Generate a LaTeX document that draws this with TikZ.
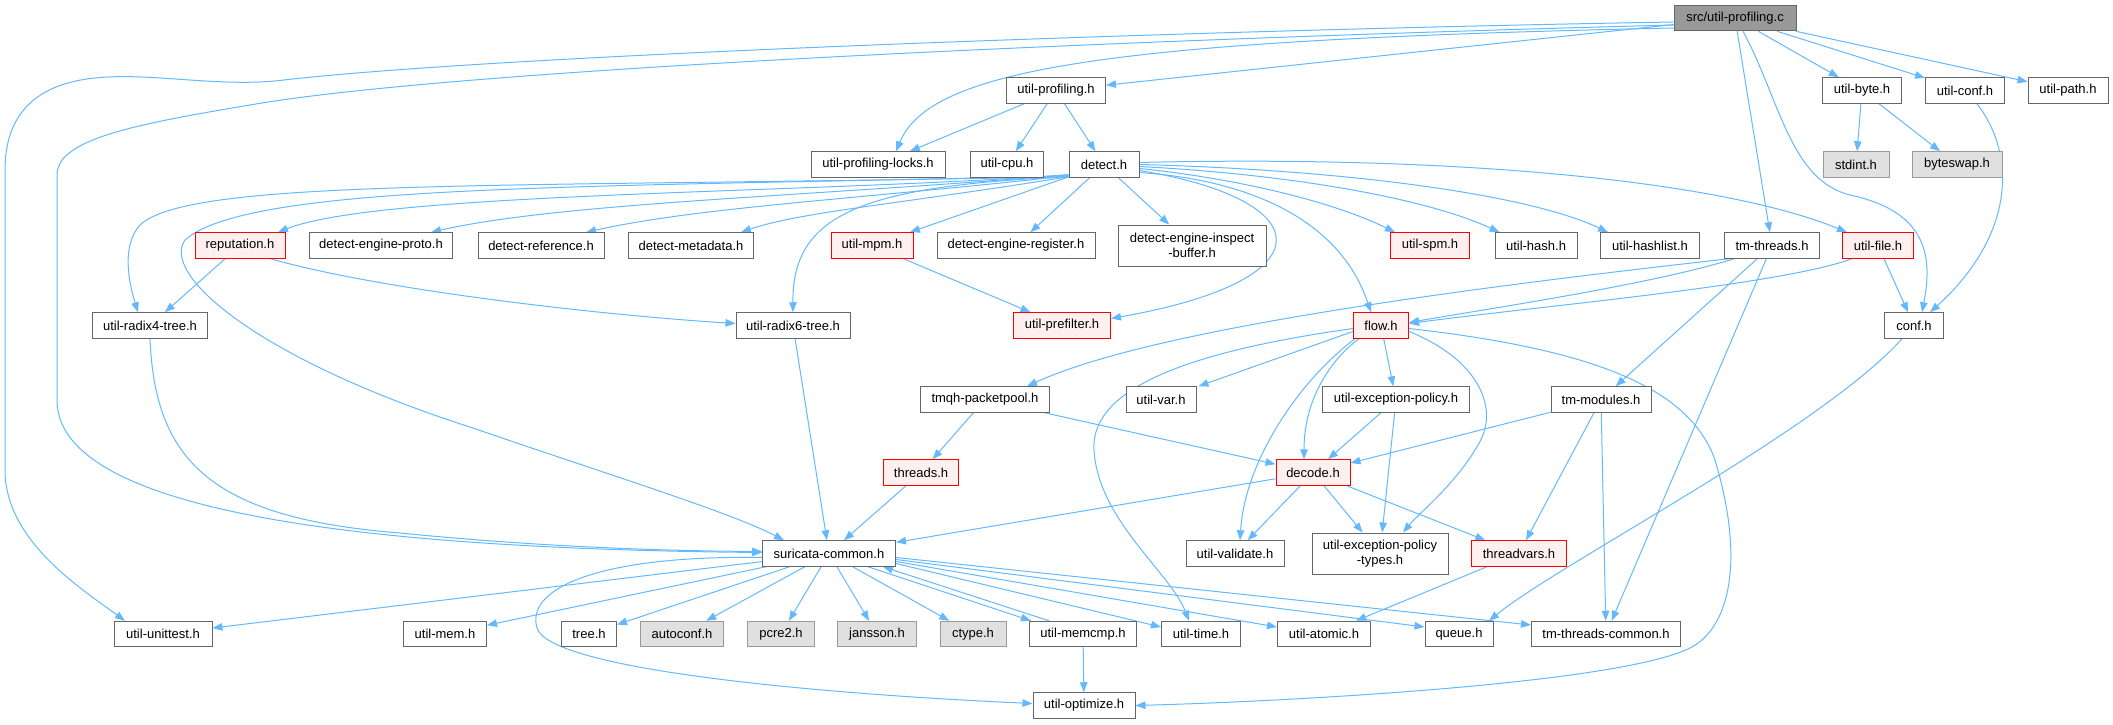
\documentclass[tikz,border=0pt]{standalone}
\usepackage{fontspec}
\setmainfont{Liberation Sans}
\usetikzlibrary{arrows.meta,calc}
\definecolor{eblue}{HTML}{63B8FF}
\definecolor{bgray}{HTML}{666666}
\definecolor{lgray}{HTML}{999999}
\definecolor{ffill}{HTML}{E0E0E0}
\definecolor{rfill}{HTML}{FFF0F0}
\pgfdeclarelayer{bg}
\pgfsetlayers{bg,main}
\tikzset{
  nb/.style={draw=bgray, fill=white, line width=1pt, minimum height=25.5pt, inner sep=0pt,
    font=\fontsize{13}{15.5}\selectfont, align=center},
  rb/.style={nb, draw=red, fill=rfill},
  gb/.style={nb, draw=lgray, fill=ffill},
  sb/.style={nb, fill=lgray},
  tall/.style={minimum height=41pt},
  e/.style={draw=eblue, line width=1pt, -{Triangle[length=10pt,width=7.5pt]}},
}
\begin{document}
\begin{tikzpicture}[x=1pt,y=-1pt]
\useasboundingbox (0,0) rectangle (2113,725);
% row 0
\node[sb, minimum width=122] (src) at (1735,18) {src/util-profiling.c};
% row 1
\node[nb, minimum width=99] (uprof) at (1056,90.5) {util-profiling.h};
\node[nb, minimum width=79] (ubyte) at (1862,90.5) {util-byte.h};
\node[nb, minimum width=79] (uconf) at (1965,90.5) {util-conf.h};
\node[nb, minimum width=80] (upath) at (2068,90.5) {util-path.h};
% row 2
\node[nb, minimum width=134] (locks) at (878,164.5) {util-profiling-locks.h};
\node[nb, minimum width=73] (ucpu) at (1007,164.5) {util-cpu.h};
\node[nb, minimum width=70] (detect) at (1104,164.5) {detect.h};
\node[gb, minimum width=66] (stdint) at (1856,164.5) {stdint.h};
\node[gb, minimum width=90] (byteswap) at (1957,164.5) {byteswap.h};
% row 3
\node[rb, minimum width=90] (reputation) at (240,245.5) {reputation.h};
\node[nb, minimum width=143] (dep) at (381,245.5) {detect-engine-proto.h};
\node[nb, minimum width=126] (dref) at (541,245.5) {detect-reference.h};
\node[nb, minimum width=125] (dmeta) at (691,245.5) {detect-metadata.h};
\node[rb, minimum width=82] (umpm) at (872,245.5) {util-mpm.h};
\node[nb, minimum width=158] (dereg) at (1016,245.5) {detect-engine-register.h};
\node[nb, tall, minimum width=148] (deib) at (1192,245.5) {detect-engine-inspect\\-buffer.h};
\node[rb, minimum width=79] (uspm) at (1430,245.5) {util-spm.h};
\node[nb, minimum width=82] (uhash) at (1536,245.5) {util-hash.h};
\node[nb, minimum width=99] (uhashlist) at (1650,245.5) {util-hashlist.h};
\node[nb, minimum width=95] (tmthreads) at (1772,245.5) {tm-threads.h};
\node[rb, minimum width=71] (ufile) at (1878,245.5) {util-file.h};
% row 4
\node[nb, minimum width=115] (radix4) at (150,325.5) {util-radix4-tree.h};
\node[nb, minimum width=114] (radix6) at (793,325.5) {util-radix6-tree.h};
\node[rb, minimum width=97] (prefilter) at (1062,325.5) {util-prefilter.h};
\node[rb, minimum width=55] (flow) at (1381,325.5) {flow.h};
\node[nb, minimum width=59] (conf) at (1914,325.5) {conf.h};
% row 5
\node[nb, minimum width=129] (tmqh) at (985,399.5) {tmqh-packetpool.h};
\node[nb, minimum width=70] (uvar) at (1161,399.5) {util-var.h};
\node[nb, minimum width=147] (uexc) at (1396,399.5) {util-exception-policy.h};
\node[nb, minimum width=100] (tmmod) at (1601,399.5) {tm-modules.h};
% row 6
\node[rb, minimum width=75] (threads) at (921,472.5) {threads.h};
\node[rb, minimum width=74] (decode) at (1313,472.5) {decode.h};
% row 7
\node[nb, minimum width=133] (suricata) at (829,553.5) {suricata-common.h};
\node[nb, minimum width=98] (uvalid) at (1235,553.5) {util-validate.h};
\node[nb, tall, minimum width=136] (uexct) at (1380,553.5) {util-exception-policy\\-types.h};
\node[rb, minimum width=95] (threadvars) at (1519,553.5) {threadvars.h};
% row 8
\node[nb, minimum width=98] (unittest) at (163,634) {util-unittest.h};
\node[nb, minimum width=83] (umem) at (445,634) {util-mem.h};
\node[nb, minimum width=55] (tree) at (589,634) {tree.h};
\node[gb, minimum width=83] (autoconf) at (682,634) {autoconf.h};
\node[gb, minimum width=67] (pcre2) at (781,634) {pcre2.h};
\node[gb, minimum width=79] (jansson) at (877,634) {jansson.h};
\node[gb, minimum width=66] (ctype) at (973,634) {ctype.h};
\node[nb, minimum width=107] (memcmp) at (1083,634) {util-memcmp.h};
\node[nb, minimum width=79] (utime) at (1201,634) {util-time.h};
\node[nb, minimum width=93] (uatomic) at (1324,634) {util-atomic.h};
\node[nb, minimum width=68] (queue) at (1459,634) {queue.h};
\node[nb, minimum width=149] (tmtc) at (1606,634) {tm-threads-common.h};
% row 9
\node[nb, minimum width=102] (uopt) at (1084,705.5) {util-optimize.h};

\begin{pgfonlayer}{bg}
% from src
\draw[e] ($(src.west)+(0,4)$) .. controls (1200,30) and (500,55) .. (284,80) .. controls (220,88) and (150,72) .. (95,78) .. controls (35,84) and (5,115) .. (5,170) -- (5,470) .. controls (5,540) and (80,588) .. ($(unittest.north)+(-38,0)$);
\draw[e] ($(src.west)+(0,7)$) .. controls (1100,40) and (450,70) .. (250,105) .. controls (130,125) and (57,140) .. (57,175) -- (57,400) .. controls (57,500) and (300,548) .. ($(suricata.west)+(0,-1)$);
\draw[e] ($(src.west)+(0,10)$) .. controls (1100,40) and (930,70) .. ($(locks.north)+(18,0)$);
\draw[e] (src) -- (uprof);
\draw[e] (src) -- (tmthreads);
\draw[e] ($(src.south)+(8,0)$) .. controls (1780,100) and (1790,180) .. (1850,195) .. controls (1930,212) and (1932,260) .. ($(conf.north)+(8,0)$);
\draw[e] (src) -- (ubyte);
\draw[e] (src) -- (uconf);
\draw[e] (src) -- (upath);
% util-profiling.h
\draw[e] (uprof) -- (locks);
\draw[e] (uprof) -- (ucpu);
\draw[e] (uprof) -- (detect);
% util-byte / util-conf
\draw[e] (ubyte) -- (stdint);
\draw[e] (ubyte) -- (byteswap);
\draw[e] ($(uconf.south)+(12,0)$) .. controls (2020,160) and (2010,240) .. ($(conf.north)+(16,0)$);
% detect.h, leftwards
\draw[e] ($(detect.south west)+(0,-1)$) .. controls (500,188) and (190,178) .. (140,225) .. controls (122,245) and (128,280) .. ($(radix4.north)+(-12,0)$);
\draw[e] ($(detect.south west)+(0,-2)$) .. controls (600,188) and (250,182) .. (185,240) .. controls (160,275) and (260,360) .. (473,428) .. controls (600,472) and (730,512) .. ($(suricata.north)+(-45,0)$);
\draw[e] ($(detect.south west)+(0,-3)$) .. controls (800,194) and (380,192) .. ($(reputation.north)+(38,0)$);
\draw[e] ($(detect.south west)+(0,-3)$) .. controls (800,197) and (560,203) .. ($(dep.north)+(50,0)$);
\draw[e] ($(detect.south west)+(0,-2)$) .. controls (850,200) and (700,207) .. ($(dref.north)+(45,0)$);
\draw[e] ($(detect.south west)+(0,-1)$) .. controls (900,204) and (800,212) .. ($(dmeta.north)+(50,0)$);
\draw[e] ($(detect.south west)+(0,-1)$) .. controls (860,186) and (792,215) .. (radix6.north);
\draw[e] (detect) -- (umpm);
\draw[e] (detect) -- (dereg);
\draw[e] (detect) -- (deib);
% detect.h, rightwards
\draw[e] ($(detect.east)+(0,6)$) .. controls (1320,200) and (1330,280) .. ($(prefilter.east)+(0,-7)$);
\draw[e] ($(detect.east)+(0,8)$) .. controls (1250,180) and (1340,220) .. ($(flow.north)+(-10,0)$);
\draw[e] ($(detect.east)+(0,4)$) .. controls (1250,180) and (1340,205) .. ($(uspm.north west)+(5,0)$);
\draw[e] ($(detect.east)+(0,2)$) .. controls (1300,175) and (1430,200) .. ($(uhash.north west)+(5,0)$);
\draw[e] (detect.east) .. controls (1350,170) and (1530,195) .. ($(uhashlist.north west)+(8,0)$);
\draw[e] ($(detect.east)+(0,-2)$) .. controls (1450,155) and (1720,180) .. ($(ufile.north west)+(5,0)$);
% reputation, mpm, radix
\draw[e] (reputation) -- (radix4);
\draw[e] ($(reputation.south east)+(-15,0)$) .. controls (380,290) and (600,315) .. ($(radix6.west)+(0,-2)$);
\draw[e] (umpm) -- (prefilter);
\draw[e] (radix4.south) .. controls (155,460) and (210,518) .. (400,533) .. controls (550,548) and (680,551) .. ($(suricata.west)+(0,-2)$);
\draw[e] (radix6) -- (suricata);
\draw[e] (threads) -- (suricata);
\draw[e] (tmqh) -- (threads);
\draw[e] (tmqh) -- (decode);
% tm-threads, util-file
\draw[e] ($(tmthreads.south west)+(5,0)$) .. controls (1450,290) and (1150,330) .. ($(tmqh.north)+(42,0)$);
\draw[e] ($(tmthreads.south west)+(10,0)$) .. controls (1650,285) and (1480,310) .. ($(flow.east)+(0,-3)$);
\draw[e] ($(ufile.south west)+(10,0)$) .. controls (1780,285) and (1550,305) .. ($(flow.east)+(0,-2)$);
\draw[e] (ufile) -- (conf);
\draw[e] (tmthreads) -- (tmmod);
\draw[e] (tmthreads) -- (tmtc);
% flow.h
\draw[e] ($(flow.west)+(0,6)$) -- ($(uvar.north east)+(2,0)$);
\draw[e] ($(flow.west)+(0,3)$) .. controls (1200,350) and (1090,385) .. (1094,450) .. controls (1098,520) and (1170,572) .. ($(utime.north)+(-12,0)$);
\draw[e] ($(flow.south west)+(6,0)$) .. controls (1330,360) and (1304,400) .. ($(decode.north)+(-9,0)$);
\draw[e] ($(flow.south west)+(2,0)$) .. controls (1300,380) and (1245,460) .. ($(uvalid.north)+(5,0)$);
\draw[e] (flow) -- (uexc);
\draw[e] ($(flow.east)+(0,6)$) .. controls (1480,360) and (1500,410) .. (1478,445) .. controls (1455,485) and (1420,512) .. ($(uexct.north)+(23,0)$);
\draw[e] ($(flow.east)+(0,3)$) .. controls (1600,350) and (1690,390) .. (1715,460) .. controls (1745,560) and (1730,628) .. (1690,648) .. controls (1620,683) and (1300,701) .. (uopt.east);
% decode etc
\draw[e] (decode) -- (suricata);
\draw[e] (decode) -- (uvalid);
\draw[e] (decode) -- (uexct);
\draw[e] (decode) -- (threadvars);
\draw[e] (uexc) -- (decode);
\draw[e] (uexc) -- (uexct);
\draw[e] (tmmod) -- (decode);
\draw[e] (tmmod) -- (threadvars);
\draw[e] (tmmod) -- (tmtc);
\draw[e] (threadvars) -- (uatomic);
\draw[e] ($(conf.south)+(-12,0)$) .. controls (1820,430) and (1560,563) .. ($(queue.north)+(30,0)$);
% suricata-common.h
\draw[e] (suricata) -- (unittest);
\draw[e] (suricata) -- (umem);
\draw[e] (suricata) -- (tree);
\draw[e] (suricata) -- (autoconf);
\draw[e] (suricata) -- (pcre2);
\draw[e] (suricata) -- (jansson);
\draw[e] (suricata) -- (ctype);
\draw[e] ($(suricata.south east)+(-28,0)$) -- ($(memcmp.north west)+(2,0)$);
\draw[e] ($(memcmp.north west)+(20,0)$) -- ($(suricata.south east)+(-13,0)$);
\draw[e] ($(suricata.east)+(0,10)$) -- ($(utime.west)+(0,-7)$);
\draw[e] ($(suricata.east)+(0,8)$) -- ($(uatomic.west)+(0,-7)$);
\draw[e] ($(suricata.east)+(0,6)$) -- ($(queue.west)+(0,-7)$);
\draw[e] ($(suricata.east)+(0,4)$) -- ($(tmtc.west)+(0,-9)$);
\draw[e] ($(suricata.west)+(0,4)$) .. controls (600,555) and (525,588) .. (537,628) .. controls (549,668) and (800,693) .. ($(uopt.west)+(0,-2)$);
\draw[e] (memcmp) -- (uopt);
\end{pgfonlayer}
\end{tikzpicture}
\end{document}
